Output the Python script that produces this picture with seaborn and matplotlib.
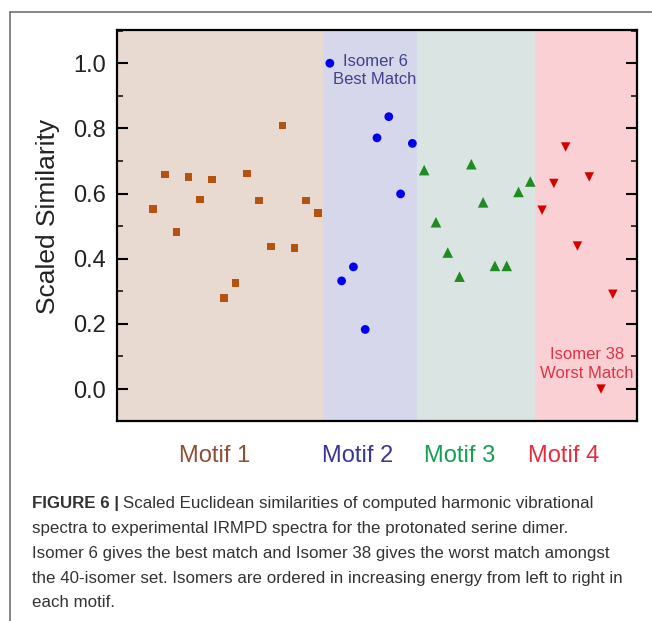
import numpy as np
import pandas as pd
import matplotlib
matplotlib.use("Agg")
import matplotlib.pyplot as plt
from matplotlib.lines import Line2D
from matplotlib.ticker import MultipleLocator
import seaborn as sns

# Scaled similarity per isomer, grouped by structural motif
# (isomers ordered by increasing energy within each motif)
motif_names = ["Motif 1", "Motif 2", "Motif 3", "Motif 4"]
motif1 = [0.552, 0.658, 0.482, 0.651, 0.582, 0.643, 0.280, 0.325, 0.661,
          0.579, 0.437, 0.809, 0.433, 0.579, 0.540]
motif2 = [1.000, 0.332, 0.375, 0.183, 0.771, 0.836, 0.599, 0.754]
motif3 = [0.672, 0.512, 0.419, 0.345, 0.690, 0.573, 0.378, 0.378, 0.605, 0.637]
motif4 = [0.549, 0.631, 0.743, 0.439, 0.651, 0.000, 0.291]
ytick_values = [0.0, 0.2, 0.4, 0.6, 0.8, 1.0]

groups = [motif1, motif2, motif3, motif4]
df = pd.DataFrame({
    "motif": np.repeat(motif_names, [len(g) for g in groups]),
    "similarity": np.concatenate(groups),
})
df["isomer"] = np.arange(1, len(df) + 1)

marker_colors = {"Motif 1": "#B4520F", "Motif 2": "#0000EE",
                 "Motif 3": "#1E8C1E", "Motif 4": "#D40000"}
marker_shapes = {"Motif 1": "s", "Motif 2": "o", "Motif 3": "^", "Motif 4": "v"}
marker_sizes = {"Motif 1": 30, "Motif 2": 40, "Motif 3": 58, "Motif 4": 46}
band_colors = {"Motif 1": "#E8DAD0", "Motif 2": "#D7D7EC",
               "Motif 3": "#DAE4E2", "Motif 4": "#FAD0D4"}
label_colors = {"Motif 1": "#8C5037", "Motif 2": "#373796",
                "Motif 3": "#14A050", "Motif 4": "#E62D3C"}

sns.set_theme(style="white")
plt.rcParams["font.family"] = ["Liberation Sans", "DejaVu Sans"]

W, H = 652, 621
fig = plt.figure(figsize=(W / 100, H / 100), dpi=100)
fx = lambda x: x / W
fy = lambda y: 1 - y / H

ax = fig.add_axes([fx(117), fy(421), fx(637) - fx(117), fy(30) - fy(421)])
xlim = (-2.05, 42.05)
ylim = (-0.098, 1.102)

# shaded motif bands
counts = np.cumsum([len(g) for g in groups])
edges = [xlim[0]] + [c + 0.4 for c in counts[:-1]] + [xlim[1]]
for name, lo, hi in zip(motif_names, edges[:-1], edges[1:]):
    ax.axvspan(lo, hi, color=band_colors[name], lw=0, zorder=0)

sns.scatterplot(data=df, x="isomer", y="similarity", hue="motif", style="motif",
                size="motif", palette=marker_colors, markers=marker_shapes,
                sizes=marker_sizes, linewidth=0, legend=False, ax=ax, zorder=3)

ax.set_xlim(*xlim)
ax.set_ylim(*ylim)
ax.set_xticks([])
ax.set_yticks(ytick_values)
ax.set_yticklabels([f"{v:.1f}" for v in ytick_values])
ax.yaxis.set_minor_locator(MultipleLocator(0.1))
ax.tick_params(axis="y", which="major", direction="in", length=8, width=1.5,
               left=True, right=True, labelsize=17, pad=8, colors="black")
ax.tick_params(axis="y", which="minor", direction="in", length=4, width=1.3,
               left=True, right=True)
for tl in ax.get_yticklabels():
    tl.set_color("#222222")
for sp in ax.spines.values():
    sp.set_color("black")
    sp.set_linewidth(1.6)
    sp.set_visible(True)
ax.set_xlabel("")
ax.set_ylabel("Scaled Similarity", fontsize=19, color="#222222")
ax.yaxis.set_label_coords(-0.11, 0.524)

# motif names under the axis
label_x = {"Motif 1": 215, "Motif 2": 358, "Motif 3": 460, "Motif 4": 563.5}
for name in motif_names:
    fig.text(fx(label_x[name]), fy(462.5), name, ha="center", va="baseline",
             fontsize=17, color=label_colors[name])

# best / worst match call-outs
fig.text(fx(375), fy(65.5), "Isomer 6", ha="center", va="baseline",
         fontsize=12, color="#41418C")
fig.text(fx(375), fy(84.3), "Best Match", ha="center", va="baseline",
         fontsize=12, color="#41418C")
fig.text(fx(587), fy(359.3), "Isomer 38", ha="center", va="baseline",
         fontsize=12, color="#E03246")
fig.text(fx(587), fy(377.7), "Worst Match", ha="center", va="baseline",
         fontsize=12, color="#E03246")

# page frame
fig.add_artist(Line2D([fx(10), 1], [fy(12), fy(12)], transform=fig.transFigure,
                      color="#666666", lw=1.1))
fig.add_artist(Line2D([fx(10), fx(10)], [fy(12), 0], transform=fig.transFigure,
                      color="#666666", lw=1.1))

# caption
cap_font = ["Liberation Sans", "DejaVu Sans"]
cap_size = 12.15
cap_color = "#333333"
cap_lines = [
    "Scaled Euclidean similarities of computed harmonic vibrational",
    "spectra to experimental IRMPD spectra for the protonated serine dimer.",
    "Isomer 6 gives the best match and Isomer 38 gives the worst match amongst",
    "the 40-isomer set. Isomers are ordered in increasing energy from left to right in",
    "each motif.",
]
cap_y = [508, 533, 558, 583, 607]
renderer = fig.canvas.get_renderer()
head = fig.text(fx(32), fy(cap_y[0]), "FIGURE 6 |", family=cap_font,
                fontsize=cap_size, fontweight="bold", color=cap_color, va="baseline")
bb = head.get_window_extent(renderer)
fig.text((bb.x1 + 4) / W, fy(cap_y[0]), cap_lines[0], family=cap_font,
         fontsize=cap_size, color=cap_color, va="baseline")
for line, y in zip(cap_lines[1:], cap_y[1:]):
    fig.text(fx(32), fy(y), line, family=cap_font, fontsize=cap_size,
             color=cap_color, va="baseline")

fig.savefig("out.png", dpi=100, facecolor="white")
